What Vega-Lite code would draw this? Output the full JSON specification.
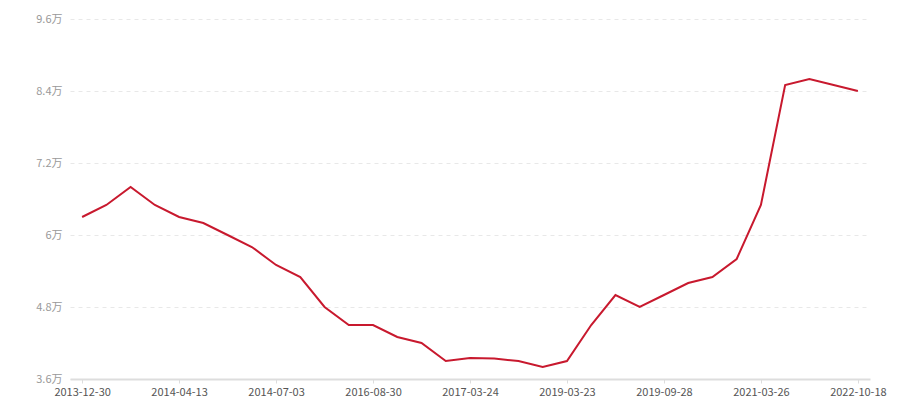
{
  "$schema": "https://vega.github.io/schema/vega-lite/v6.json",
  "width": 800,
  "height": 360,
  "autosize": "none",
  "padding": {"left": 70, "top": 19, "right": 30, "bottom": 21},
  "background": "white",
  "config": {"view": {"stroke": null}, "font": "Noto Sans CJK SC"},
  "data": {"values": [
    {"date": "2013-12-30", "price": 63000},
    {"date": "2014-01-26", "price": 65000},
    {"date": "2014-02-23", "price": 68000},
    {"date": "2014-03-16", "price": 65000},
    {"date": "2014-04-13", "price": 63000},
    {"date": "2014-05-04", "price": 62000},
    {"date": "2014-05-25", "price": 60000},
    {"date": "2014-06-15", "price": 58000},
    {"date": "2014-07-03", "price": 55000},
    {"date": "2015-01-20", "price": 53000},
    {"date": "2015-08-15", "price": 48000},
    {"date": "2016-02-10", "price": 45000},
    {"date": "2016-08-30", "price": 45000},
    {"date": "2016-10-20", "price": 43000},
    {"date": "2016-12-15", "price": 42000},
    {"date": "2017-01-25", "price": 39000},
    {"date": "2017-03-24", "price": 39500},
    {"date": "2017-09-10", "price": 39400},
    {"date": "2018-03-05", "price": 39000},
    {"date": "2018-09-15", "price": 38000},
    {"date": "2019-03-23", "price": 39000},
    {"date": "2019-05-10", "price": 45000},
    {"date": "2019-06-28", "price": 50000},
    {"date": "2019-08-12", "price": 48000},
    {"date": "2019-09-28", "price": 50000},
    {"date": "2020-03-20", "price": 52000},
    {"date": "2020-08-15", "price": 53000},
    {"date": "2020-12-10", "price": 56000},
    {"date": "2021-03-26", "price": 65000},
    {"date": "2021-08-20", "price": 85000},
    {"date": "2022-01-15", "price": 86000},
    {"date": "2022-06-05", "price": 85000},
    {"date": "2022-10-18", "price": 84000}
  ]},
  "mark": {"type": "line", "color": "#c8192e", "strokeWidth": 2},
  "encoding": {
    "x": {
      "field": "date", "type": "ordinal", "sort": null,
      "scale": {"type": "point", "padding": 0.5},
      "axis": {
        "title": null, "labelAngle": 0,
        "values": ["2013-12-30", "2014-04-13", "2014-07-03", "2016-08-30", "2017-03-24", "2019-03-23", "2019-09-28", "2021-03-26", "2022-10-18"],
        "domainColor": "#dddddd", "domainWidth": 2,
        "tickColor": "#dddddd", "tickSize": 4,
        "labelColor": "#555555", "labelFontSize": 11, "labelPadding": 3,
        "grid": false
      }
    },
    "y": {
      "field": "price", "type": "quantitative",
      "scale": {"domain": [36000, 96000], "nice": false, "zero": false},
      "axis": {
        "title": null,
        "values": [36000, 48000, 60000, 72000, 84000, 96000],
        "labelExpr": "datum.value / 10000 + '万'",
        "domain": false, "ticks": false,
        "labelColor": "#999999", "labelFontSize": 11, "labelPadding": 8,
        "grid": true, "gridColor": "#e8e8e8", "gridDash": [4, 4], "gridWidth": 1
      }
    }
  }
}
